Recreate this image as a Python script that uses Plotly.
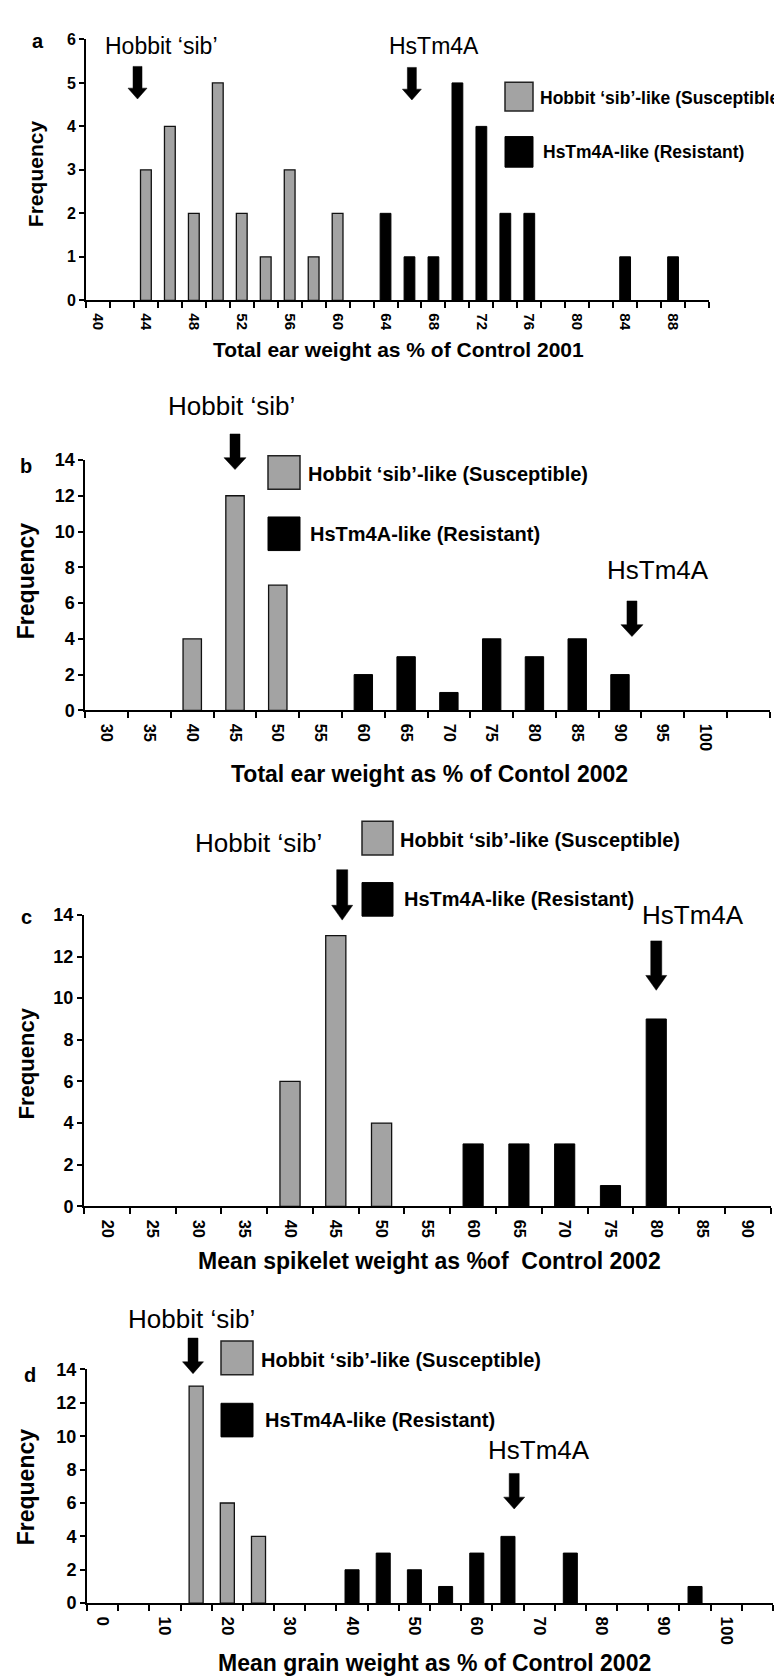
import plotly.graph_objects as go

W, H = 782, 1678

# ---------------- data ----------------
# a: Total ear weight as % of Control 2001
a_sus_x = [44, 46, 48, 50, 52, 54, 56, 58, 60]
a_sus_y = [3, 4, 2, 5, 2, 1, 3, 1, 2]
a_res_x = [64, 66, 68, 70, 72, 74, 76, 84, 88]
a_res_y = [2, 1, 1, 5, 4, 2, 2, 1, 1]
a_ticklabels = [40, 44, 48, 52, 56, 60, 64, 68, 72, 76, 80, 84, 88]

# b: Total ear weight as % of Contol 2002
b_sus_x = [40, 45, 50]
b_sus_y = [4, 12, 7]
b_res_x = [60, 65, 70, 75, 80, 85, 90]
b_res_y = [2, 3, 1, 4, 3, 4, 2]
b_ticklabels = [30, 35, 40, 45, 50, 55, 60, 65, 70, 75, 80, 85, 90, 95, 100]

# c: Mean spikelet weight as % of Control 2002
c_sus_x = [40, 45, 50]
c_sus_y = [6, 13, 4]
c_res_x = [60, 65, 70, 75, 80]
c_res_y = [3, 3, 3, 1, 9]
c_ticklabels = [20, 25, 30, 35, 40, 45, 50, 55, 60, 65, 70, 75, 80, 85, 90]

# d: Mean grain weight as % of Control 2002
d_sus_x = [15, 20, 25]
d_sus_y = [13, 6, 4]
d_res_x = [40, 45, 50, 55, 60, 65, 75, 95]
d_res_y = [2, 3, 2, 1, 3, 4, 3, 1]
d_ticklabels = [0, 10, 20, 30, 40, 50, 60, 70, 80, 90, 100]

GREY = "#a3a3a3"
BLACK = "#000000"
FONT = "Liberation Sans, Arial, Helvetica, sans-serif"

panels = [
    dict(letter="a", sus=(a_sus_x, a_sus_y), res=(a_res_x, a_res_y), ticks=a_ticklabels,
         px=(78, 701), py=(21.7, 285.7), xr=(39, 91), step=2, yr=(0, 6), dy=1, barw=0.9,
         xtitle="Total ear weight as % of Control 2001", xt=(390, 336), xts=21,
         letter_pos=(30, 23), freq=(27, 157), freqs=21, tfs=15, yfs=16,
         hob=(153, 28), hsm=(426, 28), lab_fs=23,
         arrows=[(43.3, 49, 82, 9, 19, 11), (66.2, 50, 83, 9, 19, 11)],
         leg=[(497, 525, 65, 94, 530, 81), (497, 525, 120, 151, 533, 136)], legfs=17.5),
    dict(letter="b", sus=(b_sus_x, b_sus_y), res=(b_res_x, b_res_y), ticks=b_ticklabels,
         px=(77.3, 761.7), py=(447.3, 700.7), xr=(27.5, 107.5), step=5, yr=(0, 14), dy=2, barw=2.15,
         xtitle="Total ear weight as % of Contol 2002", xt=(421, 765), xts=23,
         letter_pos=(18, 453), freq=(18, 570), freqs=23, tfs=16.5, yfs=18,
         hob=(223, 393), hsm=(650, 559), lab_fs=26,
         arrows=[(45.0, 421, 457, 10, 22, 12), (91.4, 590, 626, 10, 22, 12)],
         leg=[(260, 292, 443, 477, 298, 461), (260, 292, 505, 539, 300, 522)], legfs=20),
    dict(letter="c", sus=(c_sus_x, c_sus_y), res=(c_res_x, c_res_y), ticks=c_ticklabels,
         px=(76, 762.7), py=(907.7, 1202.7), xr=(17.5, 92.5), step=5, yr=(0, 14), dy=2, barw=2.2,
         xtitle="Mean spikelet weight as %of  Control 2002", xt=(421, 1258), xts=23,
         letter_pos=(18, 910), freq=(18, 1058), freqs=22, tfs=16.5, yfs=18,
         hob=(251, 835), hsm=(685, 908), lab_fs=26,
         arrows=[(45.7, 862, 913, 11, 21, 15), (80.0, 934, 984, 11, 21, 15)],
         leg=[(354, 385, 813, 847, 390, 832), (354, 385, 875, 909, 394, 892)], legfs=20),
    dict(letter="d", sus=(d_sus_x, d_sus_y), res=(d_res_x, d_res_y), ticks=d_ticklabels,
         px=(79, 765), py=(1367.7, 1604.3), xr=(-2.5, 107.5), step=5, yr=(0, 14), dy=2, barw=2.25,
         xtitle="Mean grain weight as % of Control 2002", xt=(426, 1665), xts=23,
         letter_pos=(22, 1373), freq=(18, 1487), freqs=23, tfs=17, yfs=18,
         hob=(183, 1317), hsm=(531, 1449), lab_fs=26,
         arrows=[(14.5, 1336, 1372, 10, 21, 12), (66.0, 1473, 1509, 10, 21, 12)],
         leg=[(213, 245, 1339, 1373, 251, 1358), (213, 245, 1402, 1436, 255, 1419)], legfs=20),
]


def PX(x):
    return x / W


def PY(y):
    return 1 - y / H


fig = go.Figure()
layout = dict(width=W, height=H, margin=dict(l=0, r=0, t=0, b=0),
              plot_bgcolor="white", paper_bgcolor="white", showlegend=False,
              barmode="overlay", font=dict(family=FONT, color="black"))
annotations = []
shapes = []

for i, p in enumerate(panels):
    n = "" if i == 0 else str(i + 1)
    xa, ya = "x" + n, "y" + n
    fig.add_trace(go.Bar(x=p["sus"][0], y=p["sus"][1], width=p["barw"], xaxis=xa, yaxis=ya,
                         marker=dict(color=GREY, line=dict(color="#111", width=1.3)),
                         name="Hobbit 'sib'-like (Susceptible)"))
    fig.add_trace(go.Bar(x=p["res"][0], y=p["res"][1], width=p["barw"], xaxis=xa, yaxis=ya,
                         marker=dict(color=BLACK, line=dict(color="#000", width=1)),
                         name="HsTm4A-like (Resistant)"))
    x0, x1 = p["xr"]
    layout["xaxis" + n] = dict(
        domain=[PX(p["px"][0]), PX(p["px"][1])], range=[x0, x1], anchor=ya,
        tickmode="array", tickvals=p["ticks"], ticktext=[str(t) for t in p["ticks"]],
        ticks="", tickangle=90, ticklabelstandoff=8,
        tickfont=dict(family=FONT, size=p["tfs"], weight="bold", color="black"),
        showline=True, linecolor="black", linewidth=2, showgrid=False, zeroline=False,
        minor=dict(tick0=x0, dtick=p["step"], ticks="outside", ticklen=6, tickwidth=2,
                   tickcolor="black", showgrid=False),
    )
    layout["yaxis" + n] = dict(
        domain=[PY(p["py"][1]), PY(p["py"][0])], range=list(p["yr"]), anchor=xa,
        tickmode="linear", tick0=0, dtick=p["dy"], ticks="outside", ticklen=5, tickwidth=2,
        tickcolor="black",
        tickfont=dict(family=FONT, size=p["yfs"], weight="bold", color="black"),
        showline=True, linecolor="black", linewidth=2, showgrid=False, zeroline=False,
    )

    def ann(text, x, y, size, bold=False, angle=0, xanchor="center"):
        annotations.append(dict(text=text, x=PX(x), y=PY(y), xref="paper", yref="paper",
                                showarrow=False, xanchor=xanchor, yanchor="middle",
                                textangle=angle,
                                font=dict(family=FONT, size=size, color="black",
                                          weight="bold" if bold else "normal")))

    ann(p["letter"], p["letter_pos"][0], p["letter_pos"][1], 20, bold=True)
    ann("Frequency", p["freq"][0], p["freq"][1], p["freqs"], bold=True, angle=-90)
    ann(p["xtitle"], p["xt"][0], p["xt"][1], p["xts"], bold=True)
    ann("Hobbit \u2018sib\u2019", p["hob"][0], p["hob"][1], p["lab_fs"])
    ann("HsTm4A", p["hsm"][0], p["hsm"][1], p["lab_fs"])

    # legend boxes
    (gx0, gx1, gy0, gy1, gtx, gty), (bx0, bx1, by0, by1, btx, bty) = p["leg"]
    shapes.append(dict(type="rect", xref="paper", yref="paper", x0=PX(gx0), x1=PX(gx1),
                       y0=PY(gy1), y1=PY(gy0), fillcolor=GREY,
                       line=dict(color="#222", width=1.5)))
    shapes.append(dict(type="rect", xref="paper", yref="paper", x0=PX(bx0), x1=PX(bx1),
                       y0=PY(by1), y1=PY(by0), fillcolor=BLACK,
                       line=dict(color="#000", width=1)))
    ann("Hobbit \u2018sib\u2019-like (Susceptible)", gtx, gty, p["legfs"], bold=True, xanchor="left")
    ann("HsTm4A-like (Resistant)", btx, bty, p["legfs"], bold=True, xanchor="left")

    # arrows
    for (xv, top, tip, sw, hw, hl) in p["arrows"]:
        cx = p["px"][0] + (xv - x0) / (x1 - x0) * (p["px"][1] - p["px"][0])
        pts = [(cx - sw / 2, top), (cx + sw / 2, top), (cx + sw / 2, tip - hl),
               (cx + hw / 2, tip - hl), (cx, tip), (cx - hw / 2, tip - hl),
               (cx - sw / 2, tip - hl)]
        path = "M " + " L ".join(f"{PX(a):.5f},{PY(b):.5f}" for a, b in pts) + " Z"
        shapes.append(dict(type="path", xref="paper", yref="paper", path=path,
                           fillcolor="black", line=dict(color="black", width=0.5)))

layout["annotations"] = annotations
layout["shapes"] = shapes
fig.update_layout(**layout)
fig.write_html("out.html")
